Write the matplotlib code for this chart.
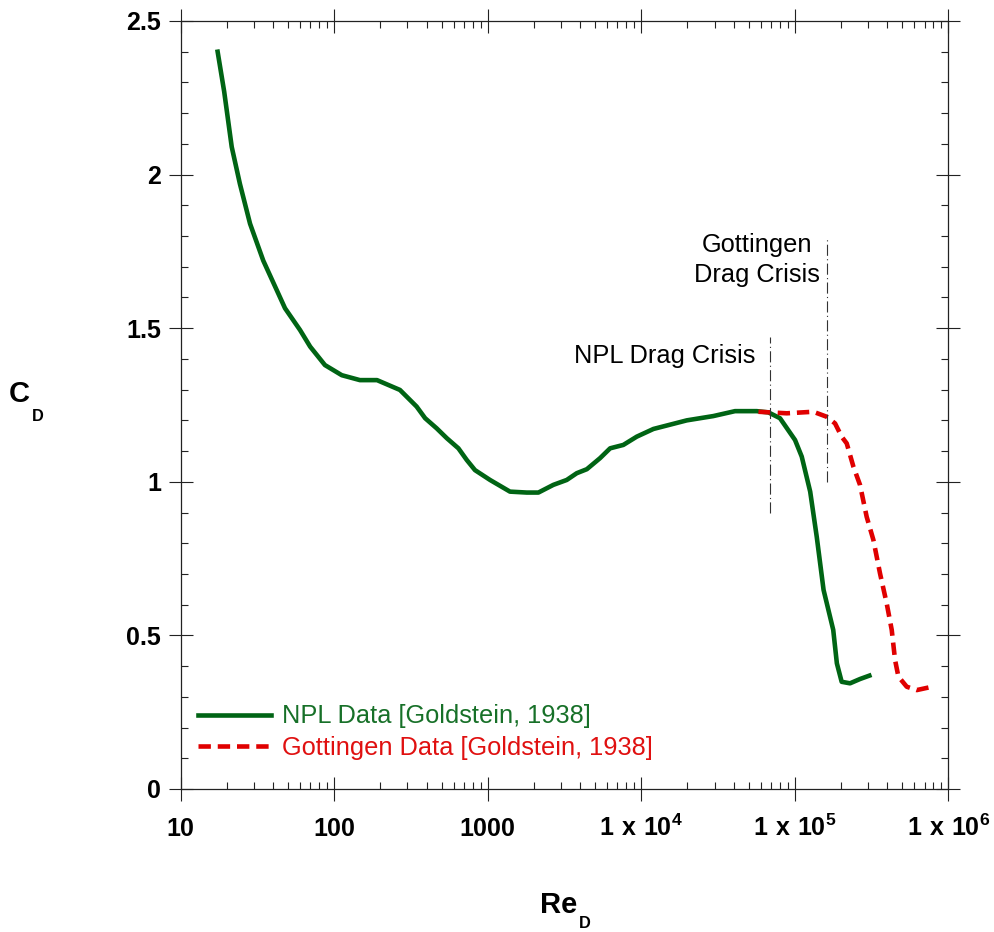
import matplotlib
matplotlib.use("Agg")
import matplotlib.pyplot as plt
from matplotlib.ticker import FixedLocator, LogLocator, MultipleLocator, NullFormatter
import numpy as np

plt.rcParams['font.family'] = ['Liberation Sans', 'DejaVu Sans']
plt.rcParams['mathtext.fontset'] = 'custom'
plt.rcParams['mathtext.rm'] = 'Liberation Sans'
plt.rcParams['mathtext.bf'] = 'Liberation Sans:bold'

# ---- data ----
re_npl = [17.4, 19.2, 21.5, 24.3, 28.3, 34.5, 47.8, 59.9, 69.7, 87, 112, 147,
          190, 268, 344, 391, 465, 541, 644, 730, 826, 1035, 1396, 1795, 2138,
          2675, 3270, 3800, 4420, 5390, 6270, 7640, 9350, 12000, 19800, 29500,
          40800, 56500, 67300, 80100, 100400, 111000, 126000, 139000, 154000,
          178000, 188000, 202000, 229000, 266000, 306000]
cd_npl = [2.40, 2.27, 2.09, 1.97, 1.84, 1.72, 1.565, 1.494, 1.44, 1.38, 1.347,
          1.331, 1.331, 1.299, 1.245, 1.207, 1.174, 1.142, 1.109, 1.071, 1.038,
          1.006, 0.968, 0.965, 0.965, 0.990, 1.006, 1.028, 1.041, 1.077, 1.109,
          1.120, 1.147, 1.172, 1.200, 1.214, 1.230, 1.230, 1.226, 1.207, 1.136,
          1.082, 0.968, 0.821, 0.648, 0.518, 0.409, 0.349, 0.344, 0.358, 0.369]

re_got = [58000, 88700, 132000, 161000, 183000, 202000, 218000, 241000, 266000,
          294000, 325000, 359000, 397000, 428000, 450000, 473000, 536000, 623000,
          754000]
cd_got = [1.228, 1.223, 1.228, 1.212, 1.190, 1.147, 1.125, 1.049, 0.990, 0.886,
          0.811, 0.702, 0.604, 0.518, 0.420, 0.366, 0.333, 0.322, 0.331]

npl_crisis_re = 69000
npl_crisis_cd = [0.90, 1.47]
got_crisis_re = 161000
got_crisis_cd = [1.00, 1.79]

x_ticks = [10, 100, 1000, 1e4, 1e5, 1e6]
x_ticklabels = [r'$\mathbf{10}$', r'$\mathbf{100}$', r'$\mathbf{1000}$',
                r'$\mathbf{1\ x\ 10^{4}}$', r'$\mathbf{1\ x\ 10^{5}}$', r'$\mathbf{1\ x\ 10^{6}}$']
y_ticks = [0, 0.5, 1, 1.5, 2, 2.5]
y_ticklabels = ['0', '0.5', '1', '1.5', '2', '2.5']

green = '#006414'
red = '#E00000'
green_txt = '#177028'
red_txt = '#E01010'

W, H = 995, 932
fig = plt.figure(figsize=(W / 100, H / 100), dpi=100)
ax = fig.add_axes([180.7 / W, (H - 789) / H, 767.6 / W, 768 / H])

ax.plot(re_npl, cd_npl, color=green, lw=3.3, solid_joinstyle='round',
        label='NPL Data [Goldstein, 1938]')
ax.plot(re_got, cd_got, color=red, lw=3.3, dashes=(2.7, 1.5),
        label='Gottingen Data [Goldstein, 1938]')

ax.plot([npl_crisis_re] * 2, npl_crisis_cd, color='#333333', lw=0.8,
        dashes=(10, 3, 1, 3))
ax.plot([got_crisis_re] * 2, got_crisis_cd, color='#333333', lw=0.8,
        dashes=(10, 3, 1, 3))

ax.text(55120, 1.388, 'NPL Drag Crisis', ha='right', va='baseline', fontsize=18.3)
ax.text(56700, 1.747, 'Gottingen', ha='center', va='baseline', fontsize=18.3)
ax.text(56700, 1.649, 'Drag Crisis', ha='center', va='baseline', fontsize=18.3)

ax.set_xscale('log')
ax.set_xlim(10, 1e6)
ax.set_ylim(0, 2.5)

ax.xaxis.set_major_locator(FixedLocator(x_ticks))
ax.xaxis.set_minor_locator(LogLocator(base=10, subs=np.arange(2, 10)))
ax.xaxis.set_minor_formatter(NullFormatter())
ax.set_xticks(x_ticks, x_ticklabels)
ax.yaxis.set_major_locator(FixedLocator(y_ticks))
ax.yaxis.set_minor_locator(MultipleLocator(0.1))
ax.set_yticks(y_ticks, y_ticklabels)

for s in ax.spines.values():
    s.set_linewidth(0.9)
    s.set_color('#222222')

ax.tick_params(which='major', direction='inout', length=17.5, width=0.8,
               color='#222222', top=True, right=True)
ax.tick_params(which='minor', direction='in', length=5, width=0.8,
               color='#222222', top=True, right=True)
ax.tick_params(axis='y', which='major', labelsize=18, pad=5.5)
ax.tick_params(axis='x', which='major', labelsize=18, pad=25)
for lbl in ax.get_yticklabels():
    lbl.set_fontweight('bold')
for lbl in ax.get_xticklabels():
    lbl.set_va('baseline')

leg = ax.legend(loc='lower left', bbox_to_anchor=(0.023, 0.038), frameon=False,
                fontsize=18.3, handlelength=2.85, handletextpad=0.45,
                labelspacing=0.29, borderpad=0, borderaxespad=0,
                labelcolor=[green_txt, red_txt])

fig.text(540 / W, 1 - 913 / H, 'Re', fontsize=21, fontweight='bold', ha='left', va='baseline')
fig.text(578.5 / W, 1 - 928.3 / H, 'D', fontsize=11.8, fontweight='bold', ha='left', va='baseline')
fig.text(9 / W, 1 - 402.5 / H, 'C', fontsize=21, fontweight='bold', ha='left', va='baseline')
fig.text(31.5 / W, 1 - 421 / H, 'D', fontsize=11.8, fontweight='bold', ha='left', va='baseline')

fig.savefig('out.png', dpi=100)
